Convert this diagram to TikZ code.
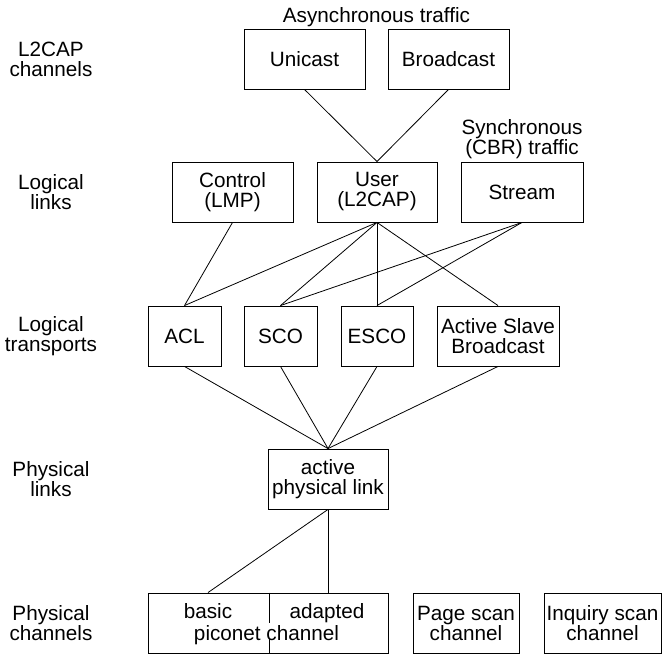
\documentclass[tikz,border=0pt]{standalone}
\usepackage{fontspec}
\setmainfont{Liberation Sans}
\usetikzlibrary{calc}
\begin{document}
\begin{tikzpicture}[x=1pt,y=-1pt,
  every node/.style={font=\fontsize{20.7}{20}\selectfont, inner sep=0pt},
  box/.style={draw, line width=0.9pt, align=center, minimum height=60pt},
  lbl/.style={align=center},
  link/.style={line width=0.8pt}]
\useasboundingbox (0,0) rectangle (664,656);

% layer names on the left
\node[lbl] (lL2) at (51,59)  {L2CAP\\channels};
\node[lbl] (lLL) at (51,192) {Logical\\links};
\node[lbl] (lLT) at (51,336) {Logical\\transports};
\node[lbl] (lPL) at (51,479) {Physical\\links};
\node[lbl] (lPC) at (51,623) {Physical\\channels};

% L2CAP channels
\node[box, minimum width=121pt] (uni) at (304.5,59) {Unicast};
\node[box, minimum width=121pt] (bro) at (448.5,59) {Broadcast};
\node[anchor=south, inner sep=2pt] (async) at ($(uni.north)!0.5!(bro.north)$) {Asynchronous traffic};

% logical links
\node[box, minimum width=121pt] (ctl) at (232.5,192) {Control\\(LMP)};
\node[box, minimum width=120pt] (usr) at (377,192)   {User\\(L2CAP)};
\node[box, minimum width=122pt] (str) at (522,192)   {Stream};
\node[anchor=south, align=center, inner sep=3pt] (sync) at (str.north) {Synchronous\\(CBR) traffic};

% logical transports
\node[box, minimum width=73pt]  (acl)  at (184.5,336) {ACL};
\node[box, minimum width=73pt]  (sco)  at (280.5,336) {SCO};
\node[box, minimum width=72pt]  (esco) at (377,336)   {ESCO};
\node[box, minimum width=122pt] (asb)  at (498,336)   {Active Slave\\Broadcast};

% physical link
\node[box, minimum width=120pt] (apl) at (328,479) {active\\physical link};

% physical channels: the split basic/adapted piconet channel box
\node[box, minimum width=240pt] (pic) at (268,623) {};
\node[anchor=base] (bas) at (208,618) {basic};
\node[anchor=base] (ada) at (327,618) {adapted};
\node[anchor=base] (pcn) at (266.5,640) {piconet channel};
\coordinate (dv) at (269,0);
\draw[link] (pic.north -| dv) -- ++(0,30);
\draw[link] (pic.south -| dv) -- ++(0,-15);
\node[box, minimum width=106pt] (page) at (466,623)   {Page scan\\channel};
\node[box, minimum width=117pt] (inq)  at (602.5,623) {Inquiry scan\\channel};

% connectors
\draw[link] (uni.south) -- (usr.north) -- (bro.south);
\draw[link] (ctl.south) -- (acl.north);
\foreach \t in {acl,sco,esco,asb} \draw[link] (usr.south) -- (\t.north);
\draw[link] (str.south) -- (sco.north);
\draw[link] (str.south) -- (esco.north);
\foreach \t in {acl,sco,esco,asb} \draw[link] (\t.south) -- (apl.north);
\draw[link] (apl.south) -- (pic.north -| bas);
\draw[link] (apl.south) -- (pic.north -| apl.south);
\end{tikzpicture}
\end{document}
